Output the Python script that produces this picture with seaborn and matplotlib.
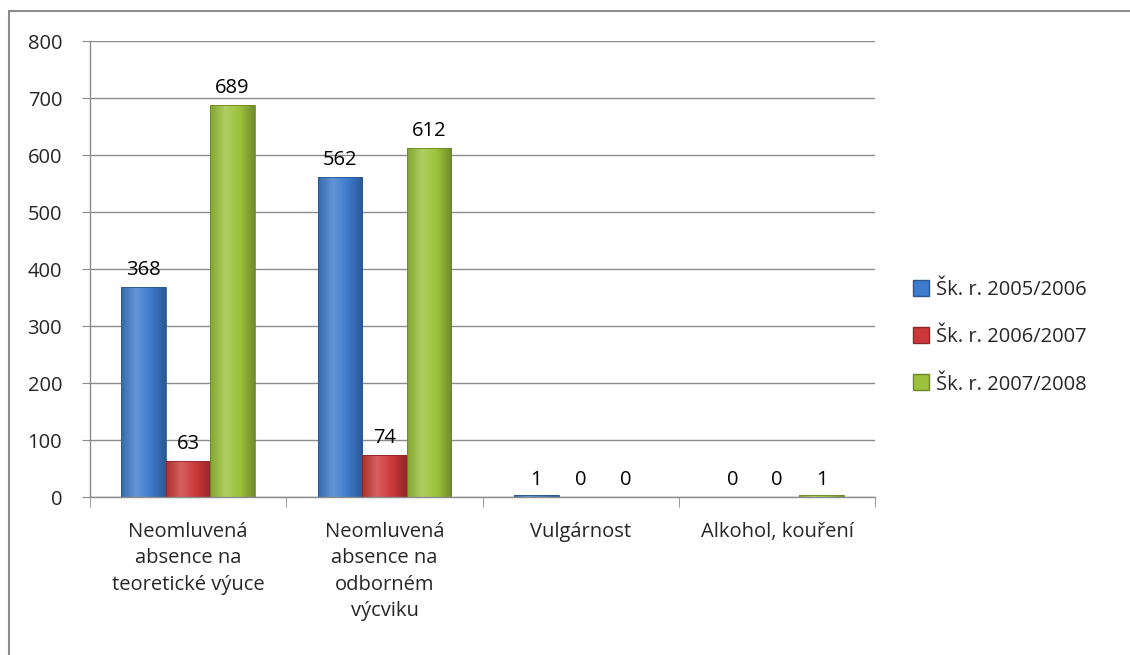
import pandas as pd
import seaborn as sns
import matplotlib.pyplot as plt
import numpy as np
from matplotlib.colors import LinearSegmentedColormap
from matplotlib.lines import Line2D

# data
categories = ['Neomluvená\nabsence na\nteoretické výuce',
              'Neomluvená\nabsence na\nodborném\nvýcviku',
              'Vulgárnost',
              'Alkohol, kouření']
years = ['Šk. r. 2005/2006', 'Šk. r. 2006/2007', 'Šk. r. 2007/2008']
v_2005 = [368, 562, 1, 0]
v_2006 = [63, 74, 0, 0]
v_2007 = [689, 612, 0, 1]

colors = ['#3d7bcc', '#cc3838', '#9bc23a']

df = pd.DataFrame({
    'kategorie': categories * 3,
    'rok': [years[0]] * 4 + [years[1]] * 4 + [years[2]] * 4,
    'pocet': v_2005 + v_2006 + v_2007,
})

sns.set_style('white')
plt.rcParams['font.family'] = ['Open Sans', 'DejaVu Sans']
FS = 14.5

fig = plt.figure(figsize=(11.3, 6.55), dpi=100)
ax = fig.add_axes([0.0796, 0.241, 0.695, 0.696])

sns.barplot(data=df, x='kategorie', y='pocet', hue='rok', palette=colors,
            width=0.68, gap=0, saturation=1, ax=ax, legend=True)

# gradient fill for each bar (Excel-ish look)
def shade(c, f):
    c = np.array(plt.matplotlib.colors.to_rgb(c))
    if f > 1:
        return tuple(c + (1 - c) * (f - 1))
    return tuple(c * f)

for cont, col in zip(ax.containers, colors):
    cmap = LinearSegmentedColormap.from_list(
        'g', [shade(col, 0.85), shade(col, 1.2), shade(col, 1.0), shade(col, 0.72)])
    grad = np.linspace(0, 1, 64).reshape(1, -1)
    for p in cont.patches:
        x0, y0 = p.get_x(), p.get_y()
        w, h = p.get_width(), p.get_height()
        if h <= 0:
            p.set_visible(False)
            continue
        if h < 5:
            # tiny bars are drawn as a thin line
            h = 3
            p.set_height(h)
        im = ax.imshow(grad, extent=[x0, x0 + w, y0, y0 + h], aspect='auto',
                       cmap=cmap, zorder=2, interpolation='bicubic')
        im.set_clip_path(p)
        p.set_facecolor('none')
        p.set_edgecolor(shade(col, 0.7))
        p.set_linewidth(0.6)
        p.set_zorder(3)

# value labels
for cont, vals in zip(ax.containers, [v_2005, v_2006, v_2007]):
    for p, v in zip(cont.patches, vals):
        ax.annotate(str(v), (p.get_x() + p.get_width() / 2, v),
                    xytext=(0, 5), textcoords='offset points',
                    ha='center', va='bottom', fontsize=FS, color='black')

ax.set_xlim(-0.5, 3.5)
ax.set_ylim(0, 800)
ax.set_yticks(range(0, 801, 100))
ax.set_xlabel('')
ax.set_ylabel('')
ax.grid(axis='y', color='#8c8c8c', linewidth=1)
ax.set_axisbelow(True)

for s in ['top', 'right']:
    ax.spines[s].set_visible(False)
for s in ['left', 'bottom']:
    ax.spines[s].set_color('#8c8c8c')
    ax.spines[s].set_linewidth(1)

ax.tick_params(axis='y', length=6, color='#8c8c8c', direction='out',
               labelsize=FS, pad=14, left=True)
ax.set_xticks([0, 1, 2, 3])
ax.set_xticklabels(categories, fontsize=FS, linespacing=1.42, va='top')
ax.tick_params(axis='x', length=0, pad=18)
# ticks between categories
ax.set_xticks([-0.5, 0.5, 1.5, 2.5, 3.5], minor=True)
ax.tick_params(axis='x', which='minor', length=7, color='#8c8c8c',
               direction='out', bottom=True)

# legend with square markers
handles = [Line2D([], [], marker='s', linestyle='', markersize=11,
                  markerfacecolor=c, markeredgecolor=shade(c, 0.7))
           for c in colors]
ax.legend(handles, years, loc='center left', bbox_to_anchor=(0.79, 0.485),
          bbox_transform=fig.transFigure, frameon=False, fontsize=FS,
          labelspacing=1.35, handletextpad=0.25, handlelength=1.0)

# outer border of the chart area
fig.add_artist(Line2D([0.008, 0.008], [0, 0.983], color='#8c8c8c', linewidth=1.5,
                      transform=fig.transFigure))
fig.add_artist(Line2D([0.008, 1.0], [0.983, 0.983], color='#8c8c8c', linewidth=1.5,
                      transform=fig.transFigure))

fig.savefig('out.png', dpi=100)
